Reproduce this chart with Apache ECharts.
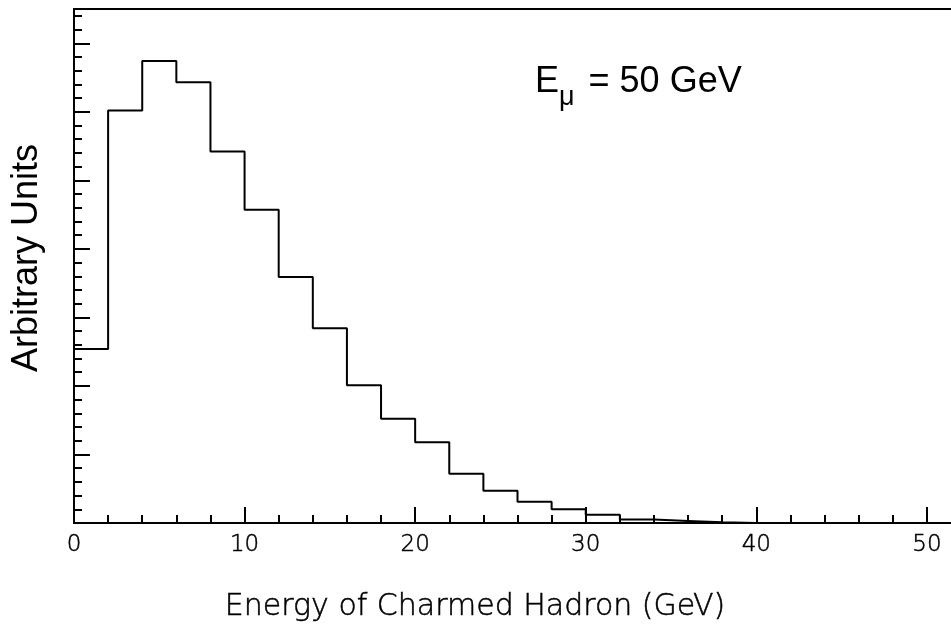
<!DOCTYPE html>
<html>
<head>
<meta charset="utf-8">
<script src="https://cdn.jsdelivr.net/npm/echarts@6/dist/echarts.min.js"></script>
<style>
html,body{margin:0;padding:0;background:#fff;overflow:hidden;width:951px;height:625px;}
#chart{width:961px;height:625px;}
</style>
</head>
<body>
<div id="chart"></div>
<script>
// Histogram bins: left edges (GeV), bin width 2 GeV
var binEdges = [0, 2, 4, 6, 8, 10, 12, 14, 16, 18, 20, 22, 24, 26, 28, 30, 32, 34, 36, 38, 40, 42, 44, 46, 48, 50, 52];
// Arbitrary-unit contents for each bin (one fewer than edges)
var binValues = [254, 602, 674, 643, 542, 457, 359, 284, 201, 152, 118, 72, 47, 31, 20, 12, 5, 3, 1, 0, 0, 0, 0, 0, 0, 0];
var xTicks = [0, 10, 20, 30, 40, 50];
var xTitle = 'Energy of Charmed Hadron (GeV)';
var yTitle = 'Arbitrary Units';

var stepData = [[binEdges[0], 0]];
for (var i = 0; i < binValues.length; i++) {
  stepData.push([binEdges[i], binValues[i]]);
}
stepData.push([binEdges[binEdges.length - 1], binValues[binValues.length - 1]]);

var chart = echarts.init(document.getElementById('chart'));
chart.setOption({
  animation: false,
  backgroundColor: '#fff',
  grid: {
    left: 74, top: 9, right: 0, bottom: 102,
    show: true, borderColor: '#000', borderWidth: 2, backgroundColor: 'transparent'
  },
  xAxis: {
    type: 'value', min: 0, max: 52, interval: 10,
    axisLine: { show: true, onZero: false, lineStyle: { color: '#000', width: 2 } },
    axisTick: { show: true, inside: true, length: 16, lineStyle: { color: '#000', width: 2 } },
    minorTick: { show: true, splitNumber: 5, length: 8, lineStyle: { color: '#000', width: 2 } },
    splitLine: { show: false },
    axisLabel: {
      margin: 11, color: '#000', fontFamily: 'DejaVu Sans', fontWeight: 200, fontSize: 23,
      textBorderColor: '#000', textBorderWidth: 0.5,
      showMaxLabel: false,
      formatter: function (v) { return xTicks.indexOf(v) >= 0 ? String(v) : ''; }
    }
  },
  yAxis: {
    type: 'value', min: 0, max: 750, interval: 100,
    axisLine: { show: true, lineStyle: { color: '#000', width: 2 } },
    axisTick: { show: true, inside: true, length: 16, lineStyle: { color: '#000', width: 2 } },
    minorTick: { show: true, splitNumber: 5, length: 8, lineStyle: { color: '#000', width: 2 } },
    splitLine: { show: false },
    axisLabel: { show: false }
  },
  graphic: [
    {
      type: 'text', x: 475, y: 607,
      style: {
        text: xTitle, fill: '#000', font: '200 30px "DejaVu Sans", sans-serif',
        stroke: '#000', lineWidth: 0.5,
        textAlign: 'center', textVerticalAlign: 'middle'
      }
    },
    {
      type: 'text', x: 27, y: 258, rotation: Math.PI / 2,
      style: {
        text: yTitle, fill: '#000', font: '36px "Liberation Sans", Arial, sans-serif',
        textAlign: 'center', textVerticalAlign: 'middle'
      }
    },
    {
      type: 'text', x: 535, y: 64,
      style: {
        text: '{e|E}{m|μ}{r| = 50 GeV}',
        rich: {
          e: { fontSize: 36, fontFamily: 'Liberation Sans', color: '#000', verticalAlign: 'top' },
          m: { fontSize: 27, fontFamily: 'Liberation Sans', color: '#000', padding: [20, 4, 0, 0], verticalAlign: 'top' },
          r: { fontSize: 36, fontFamily: 'Liberation Sans', color: '#000', verticalAlign: 'top' }
        }
      }
    }
  ],
  series: [{
    type: 'line', step: 'end', data: stepData, symbol: 'none',
    lineStyle: { color: '#000', width: 2 }, clip: true
  }]
});
</script>
</body>
</html>
